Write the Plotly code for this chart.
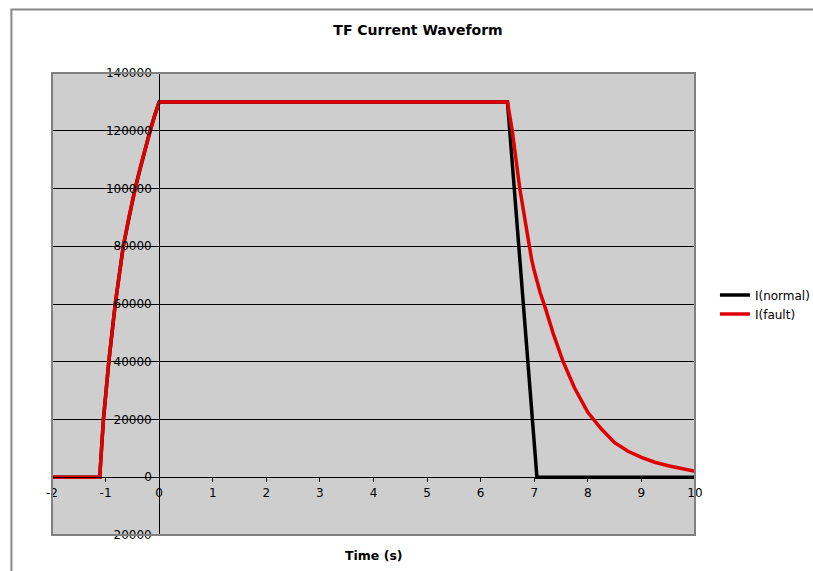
import plotly.graph_objects as go

# Data
t_normal = [-2, -1.11, -1.04, -0.94, -0.82, -0.67, -0.45, -0.3, -0.17, -0.08, 0, 6.5, 7.05, 10]
i_normal = [0, 0, 20000, 40000, 60000, 80000, 100000, 111000, 120000, 125500, 130000, 130000, 0, 0]

t_fault = [-2, -1.11, -1.04, -0.94, -0.82, -0.67, -0.56, -0.45, -0.37, -0.3, -0.23, -0.17, -0.12, -0.08, -0.04, 0,
           6.5, 6.59, 6.73, 6.9, 6.95, 7.0, 7.05, 7.11, 7.2, 7.35, 7.54, 7.75, 8.0, 8.13, 8.25, 8.5, 8.75,
           9.0, 9.25, 9.5, 9.75, 10]
i_fault = [0, 0, 20000, 40000, 60000, 80000, 90500, 100000, 106000, 111000, 116000, 120000, 123000, 125500, 128000, 130000,
           130000, 120000, 100000, 80000, 75500, 71500, 67800, 64000, 59000, 50000, 40000, 31000, 22500, 19500, 16800,
           12000, 9000, 6900, 5200, 4000, 2900, 2100]

x_ticks = [-2, -1, 0, 1, 2, 3, 4, 5, 6, 7, 8, 9, 10]
y_ticks = [-20000, 0, 20000, 40000, 60000, 80000, 100000, 120000, 140000]

FONT = "DejaVu Sans"

fig = go.Figure()
fig.add_trace(go.Scatter(x=t_normal, y=i_normal, mode="lines", name="I(normal)",
                         line=dict(color="#000000", width=3.5)))
fig.add_trace(go.Scatter(x=t_fault, y=i_fault, mode="lines", name="I(fault)",
                         line=dict(color="#E00000", width=3.5)))

fig.update_layout(
    width=813, height=571,
    margin=dict(l=52, r=118, t=73, b=36, autoexpand=False),
    paper_bgcolor="white",
    plot_bgcolor="#CECECE",
    font=dict(family=FONT, size=12, color="#000000"),
    title=dict(text="<b>TF Current Waveform</b>", x=418 / 813, xanchor="center",
               y=1 - 30 / 571, yanchor="middle", font=dict(family=FONT, size=14)),
    showlegend=True,
    legend=dict(x=1.031, xanchor="left", y=0.551, yanchor="top",
                bgcolor="rgba(0,0,0,0)", font=dict(family=FONT, size=12),
                itemwidth=30, tracegroupgap=0),
    xaxis=dict(range=[-2, 10], tickvals=x_ticks, ticktext=[str(v) for v in x_ticks],
               showgrid=False, zeroline=False, showline=True, linecolor="#000000", linewidth=1,
               ticks="outside", ticklen=4, tickcolor="#000000",
               anchor="free", position=20000 / 160000, tickfont=dict(size=12)),
    yaxis=dict(range=[-20000, 140000], tickvals=y_ticks, ticktext=[str(v) for v in y_ticks],
               showgrid=True, gridcolor="#000000", gridwidth=1, zeroline=False,
               showline=True, linecolor="#000000", linewidth=1,
               ticks="outside", ticklen=5, tickcolor="#000000",
               anchor="free", position=2 / 12, tickfont=dict(size=12)),
)

# plot area border
fig.add_shape(type="rect", xref="paper", yref="paper", x0=0, x1=1, y0=0, y1=1,
              line=dict(color="#808080", width=2), layer="above")
# chart outer border
fig.add_shape(type="rect", xref="paper", yref="paper",
              x0=(11.4 - 52) / 643, x1=1.3, y0=-0.2, y1=(535 - 9.4) / 462,
              line=dict(color="#888888", width=2), layer="above")

fig.add_annotation(text="<b>Time (s)</b>", xref="paper", yref="paper",
                   x=0.5, y=-(555 - 535) / 462, yanchor="middle", showarrow=False,
                   font=dict(family=FONT, size=12.5))

fig.write_html("out.html", config={"displayModeBar": False},
               post_script="document.body.style.margin='0';document.body.style.overflow='hidden';")
